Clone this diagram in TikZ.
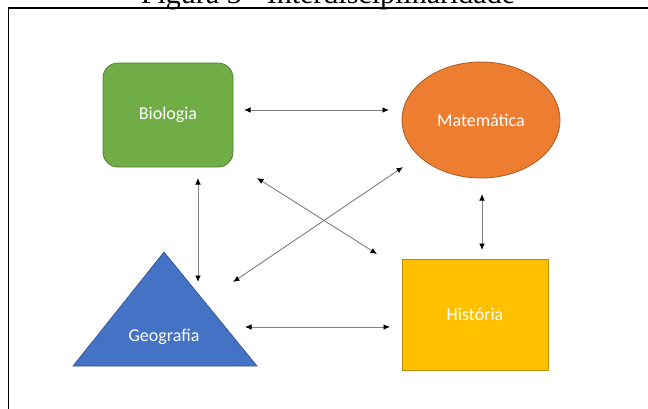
\documentclass[tikz,border=0pt]{standalone}
\usepackage{fontspec}
\newfontfamily\calib{Carlito}
\newfontfamily\timesf{Liberation Serif}
\usetikzlibrary{shapes.geometric,arrows.meta}
\definecolor{bioG}{HTML}{70AD47}
\definecolor{bioB}{HTML}{507E32}
\definecolor{matO}{HTML}{ED7D31}
\definecolor{matB}{HTML}{AE5A21}
\definecolor{geoB}{HTML}{4472C4}
\definecolor{geoL}{HTML}{2F528F}
\definecolor{hisY}{HTML}{FFC000}
\definecolor{hisB}{HTML}{BC8C00}
\definecolor{conG}{HTML}{808080}
\tikzset{
  lbl/.style={text=white,font=\calib\fontsize{18}{22}\selectfont,inner sep=0pt},
  conn/.style={draw=conG,line width=0.9pt,{Latex[length=6.5pt,width=5.5pt,color=black]}-{Latex[length=6.5pt,width=5.5pt,color=black]}},
}
\begin{document}
\begin{tikzpicture}[x=1pt,y=1pt]
\useasboundingbox (0,0) rectangle (648,-408);
\fill[white] (0,0) rectangle (648,-408);
% caption (cut off at top)
\node[anchor=base,inner sep=0pt,font=\timesf\fontsize{30}{36}\selectfont] (cap) at (328,-3.5) {Figura 3 - Interdisciplinaridade};
% frame
\draw[line width=1.3pt,black] (8.5,-420) -- (8.5,-8) -- (660,-8);
% shapes
\node[lbl,draw=bioB,fill=bioG,line width=0.8pt,rounded corners=15pt,minimum width=130pt,minimum height=104pt] (bio) at (168,-115) {Biologia};
\node[lbl,ellipse,draw=matB,fill=matO,line width=0.8pt,minimum width=158pt,minimum height=116pt] (mat) at (481,-120) {Matemática};
\node[lbl,draw=hisB,fill=hisY,line width=0.8pt,minimum width=146pt,minimum height=111pt] (his) at (475,-314.5) {História};
\filldraw[fill=geoB,draw=geoL,line width=0.6pt] (164,-252) -- (257,-366) -- (73,-366) -- cycle;
\node[lbl] (geo) at (164,-337) {Geografia};
% connector end points
\coordinate (bm1) at (244,-110);
\coordinate (bm2) at (389,-110);
\coordinate (mh1) at (482,-194);
\coordinate (mh2) at (482,-250);
\coordinate (bg1) at (198,-178);
\coordinate (bg2) at (198,-282);
\coordinate (bh1) at (257,-178);
\coordinate (bh2) at (377,-254);
\coordinate (mg1) at (403,-167);
\coordinate (mg2) at (233,-282);
\coordinate (gh1) at (245,-327);
\coordinate (gh2) at (390,-327);
% connectors
\draw[conn] (bm1) -- (bm2);
\draw[conn] (mh1) -- (mh2);
\draw[conn] (bg1) -- (bg2);
\draw[conn] (bh1) -- (bh2);
\draw[conn] (mg1) -- (mg2);
\draw[conn] (gh1) -- (gh2);
\end{tikzpicture}
\end{document}
